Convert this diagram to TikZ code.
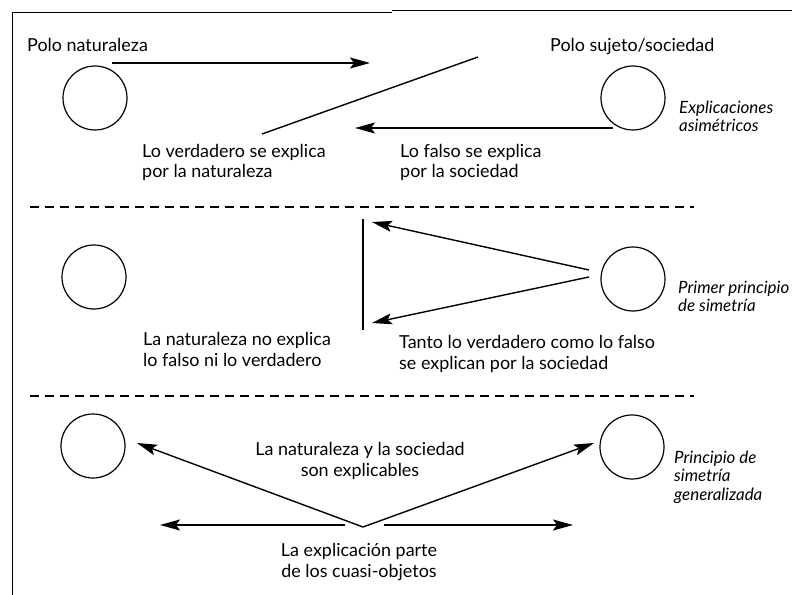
\documentclass[tikz,border=0pt]{standalone}
\usepackage{fontspec}
\setmainfont{Lato}
\usetikzlibrary{arrows.meta}
\begin{document}
\begin{tikzpicture}[x=1bp,y=-1bp,
  pole/.style={circle,draw,line width=1.2bp,minimum size=64bp,inner sep=0pt},
  lbl/.style={font=\fontsize{18}{20.5}\selectfont,inner sep=0pt,align=left,anchor=base west},
  clbl/.style={lbl,align=center,anchor=base},
  ital/.style={lbl,font=\fontsize{17}{18.5}\selectfont\itshape},
  conn/.style={line width=1.4bp},
  arr/.style={conn,-{Stealth[length=20bp,width=11bp,inset=4bp]}},
  sep/.style={line width=1.4bp,dash pattern=on 9bp off 6bp}]
\useasboundingbox (0,0) rectangle (792,595);
% frame
\draw[line width=1.2bp] (12.5,595) -- (12.5,12.5) -- (392,12.5);
\draw[line width=1.4bp] (392,10.8) -- (792,10.8);
% separators
\draw[sep] (30,207) -- (694,207);
\draw[sep] (30,396) -- (694,396);
% poles
\node[pole] (c1) at (95,98) {};
\node[pole] (c2) at (633,98) {};
\node[pole] (c3) at (94,277) {};
\node[pole] (c4) at (633,279) {};
\node[pole] (c5) at (93,446) {};
\node[pole] (c6) at (632,447) {};
% row 1
\node[lbl] (t1) at (27,52) {Polo naturaleza};
\node[lbl] (t2) at (550,52) {Polo sujeto/sociedad};
\node[lbl] (t3) at (142,178) {Lo verdadero se explica\\por la naturaleza};
\node[lbl] (t4) at (400,178) {Lo falso se explica\\por la sociedad};
\node[ital] (t5) at (679,131.5) {Explicaciones\\asimétricos};
\coordinate (a1s) at (112,63);
\coordinate (a1e) at (370,63);
\coordinate (d1s) at (262,134);
\coordinate (d1e) at (478,57);
\coordinate (a2s) at (613,128);
\coordinate (a2e) at (355,128);
\draw[arr] (a1s) -- (a1e);
\draw[conn] (d1s) -- (d1e);
\draw[arr] (a2s) -- (a2e);
% row 2
\node[lbl] (t6) at (143,366) {La naturaleza no explica\\lo falso ni lo verdadero};
\node[lbl] (t7) at (399,369) {Tanto lo verdadero como lo falso\\se explican por la sociedad};
\node[ital] (t8) at (678,311.5) {Primer principio\\de simetría};
\coordinate (vt) at (363,219);
\coordinate (vb) at (363,330);
\coordinate (src) at (589,270);
\coordinate (src2) at (589,277);
\coordinate (e1) at (372,222);
\coordinate (e2) at (372,323);
\draw[conn] (vt) -- (vb);
\draw[arr] (src) -- (e1);
\draw[arr] (src2) -- (e2);
% row 3
\node[clbl] (t9) at (360,476) {La naturaleza y la sociedad\\son explicables};
\node[clbl] (t10) at (359,577) {La explicación parte\\de los cuasi-objetos};
\node[ital] (t11) at (674,500) {Principio de\\simetría\\generalizada};
\coordinate (apex) at (363,527);
\coordinate (l1) at (137,443);
\coordinate (r1) at (594,443);
\coordinate (hls) at (345,525);
\coordinate (hle) at (160,525);
\coordinate (hrs) at (384,525);
\coordinate (hre) at (573,525);
\draw[arr] (apex) -- (l1);
\draw[arr] (apex) -- (r1);
\draw[arr] (hls) -- (hle);
\draw[arr] (hrs) -- (hre);
\end{tikzpicture}
\end{document}
